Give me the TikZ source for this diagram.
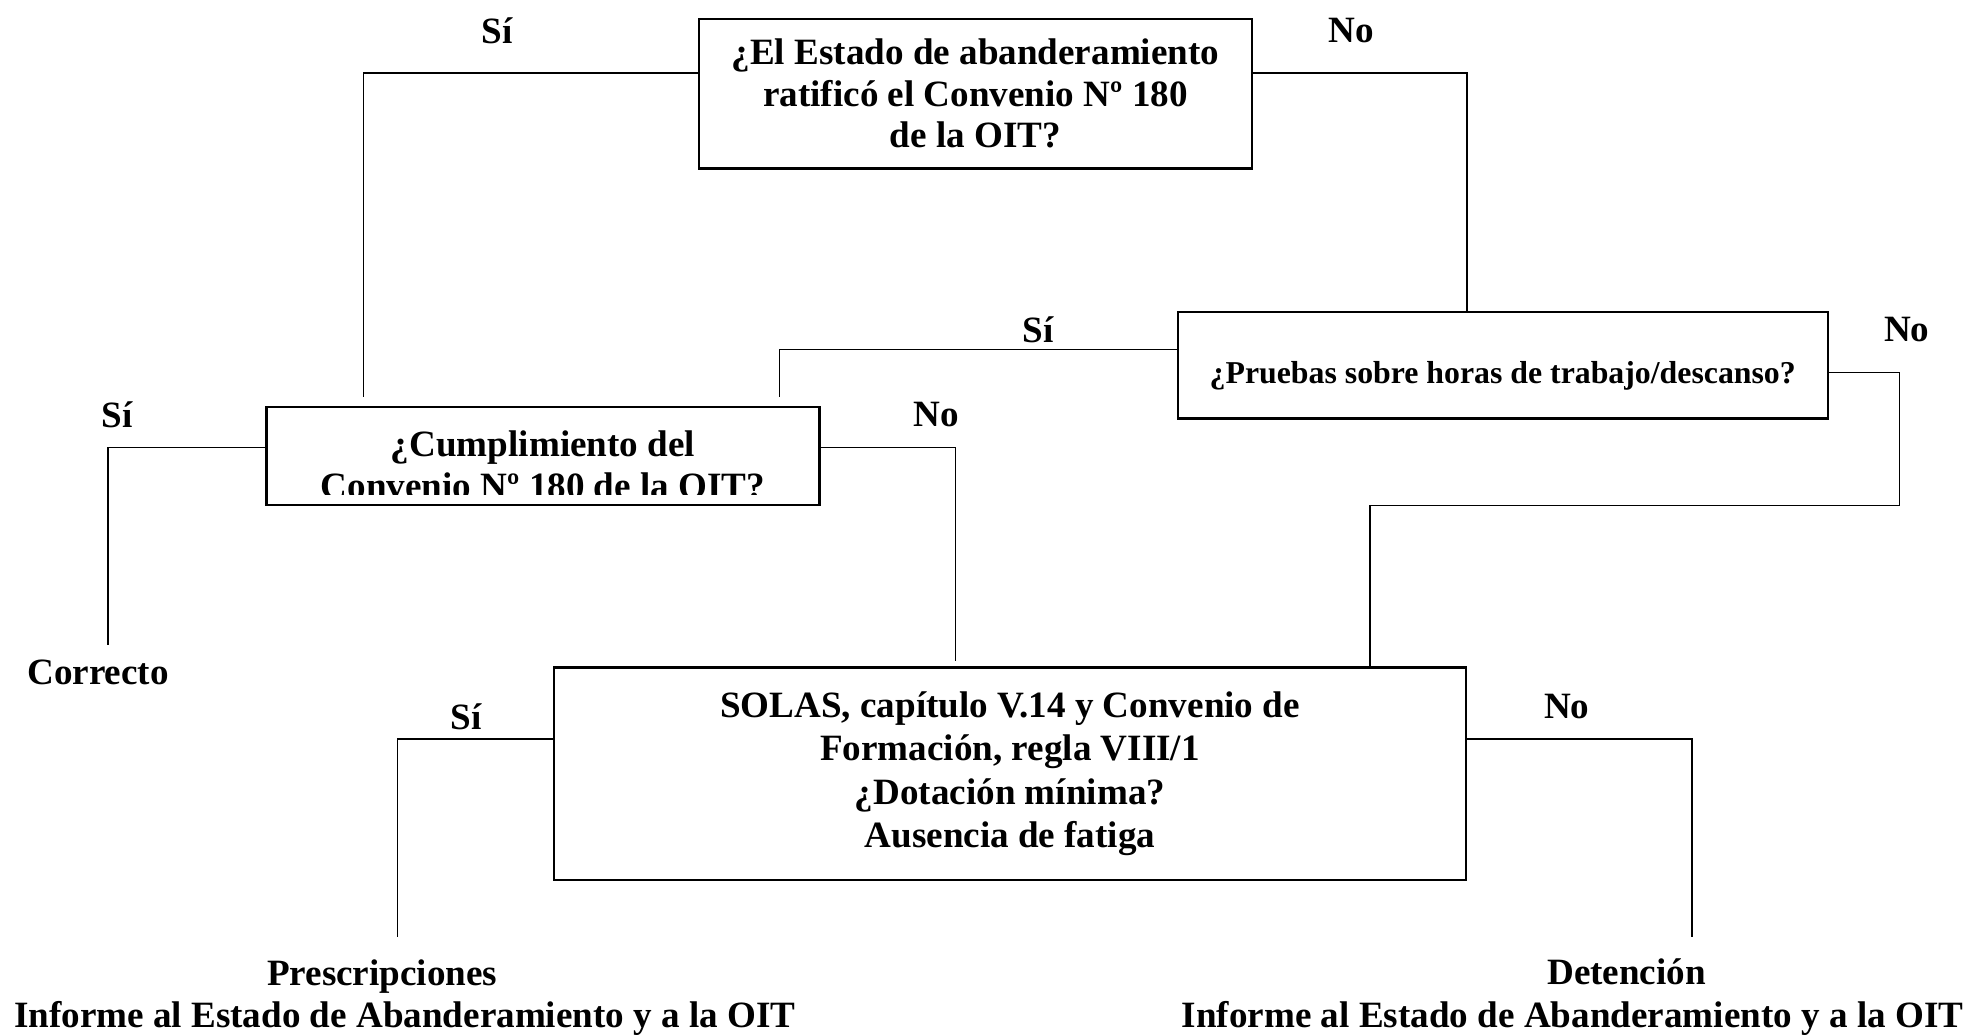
\documentclass[tikz,border=0pt]{standalone}
\usepackage{fontspec}
\setmainfont{Liberation Serif}
\usetikzlibrary{positioning}

\begin{document}
\begin{tikzpicture}[on grid,
		pregunta/.style={draw, line width=1.3pt, align=center, inner sep=0pt,
			font=\bfseries\fontsize{21}{24}\selectfont},
		fin/.style={font=\bfseries\fontsize{21}{24}\selectfont},
		resp/.style={inner sep=0pt, font=\bfseries\fontsize{21}{24}\selectfont},
		linea/.style={line width=0.8pt}]
				\useasboundingbox (0,0) rectangle (39.2,-20.575);
				\node[pregunta, minimum width=11cm, minimum height=2.975cm, font=\bfseries\fontsize{21}{23.5}\selectfont] (q1) at (19.4,-1.8625) {¿El Estado de abanderamiento\\ratificó el Convenio Nº 180\\de la OIT?};
				\node[pregunta, minimum width=12.925cm, minimum height=2.125cm, text height=0.86cm, text depth=0.14cm, font=\bfseries\fontsize{18}{21}\selectfont] (q3) [below right=5.4cm and 10.4875cm of q1] {¿Pruebas sobre horas de trabajo/descanso?};
				\node[pregunta, minimum width=11cm, minimum height=1.95cm] (q2) [below left=7.2125cm and 8.6cm of q1] {\rule{0pt}{0.85cm}¿Cumplimiento del\\Convenio Nº 180 de la OIT?};
				\node[pregunta, minimum width=18.125cm, minimum height=4.225cm, font=\bfseries\fontsize{21}{24.7}\selectfont] (q4) [below right=13.525cm and 0.6875cm of q1] {SOLAS, capítulo V.14 y Convenio de\\Formación, regla VIII/1\\¿Dotación mínima?\\Ausencia de fatiga};
				\node[fin] (ok) [below left=4.3cm and 8.85cm of q2] {Correcto};
				\node[fin] (pr) [below left=4.0275cm and 12.4875cm of q4] {Prescripciones};
				\node[fin] (prinf) [below right=0.84cm and 0.45cm of pr] {Informe al Estado de Abanderamiento y a la OIT};
				\node[fin] (dt) [below right=3.9425cm and 12.2625cm of q4] {Detención};
				\node[fin] (dtinf) [below left=0.925cm and 1.075cm of dt] {Informe al Estado de Abanderamiento y a la OIT};
				% second line of q2 is cut by the box
				\fill[white] ([xshift=1mm,yshift=0.55mm]q2.south west) rectangle ([xshift=-1mm,yshift=2.2mm]q2.south east);
				\draw[linea] ([yshift=4.1mm]q1.west) -| node[resp, pos=0.3, yshift=8.5mm] (siA) {Sí} ([xshift=-35.75mm,yshift=1.75mm]q2.north);
				\draw[linea] ([yshift=4.1mm]q1.east) -| node[resp, pos=0.23, yshift=8.5mm] (noB) {No} ([xshift=-7.1mm]q3.north);
				\draw[linea] ([yshift=3.1mm]q3.west) -| node[resp, pos=0.174, yshift=4mm] (siC) {Sí} ([xshift=47mm,yshift=1.75mm]q2.north);
				\draw[linea] ([yshift=-1.4mm]q3.east) -- ++(1.4,0) node[resp, yshift=8.5mm, xshift=1.5mm] (noD) {No}
					-- ++(0,-2.65) -| ([xshift=71.6mm]q4.north);
				\draw[linea] ([yshift=1.75mm]q2.west) -| node[resp, pos=0.472, yshift=6.5mm] (siE) {Sí} ([xshift=2mm,yshift=1.75mm]ok.north);
				\draw[linea] ([yshift=1.75mm]q2.east) -| node[resp, pos=0.43, yshift=6.5mm] (noF) {No} ([xshift=-10.9mm,yshift=1mm]q4.north);
				\draw[linea] ([yshift=6.9mm]q4.west) -| node[resp, pos=0.28, yshift=4.5mm] (siG) {Sí} ([xshift=3mm,yshift=3.3mm]pr.north);
				\draw[linea] ([yshift=6.9mm]q4.east) -| node[resp, pos=0.222, yshift=6.5mm] (noH) {No} ([xshift=13mm,yshift=3.2mm]dt.north);
			\end{tikzpicture}
\end{document}
